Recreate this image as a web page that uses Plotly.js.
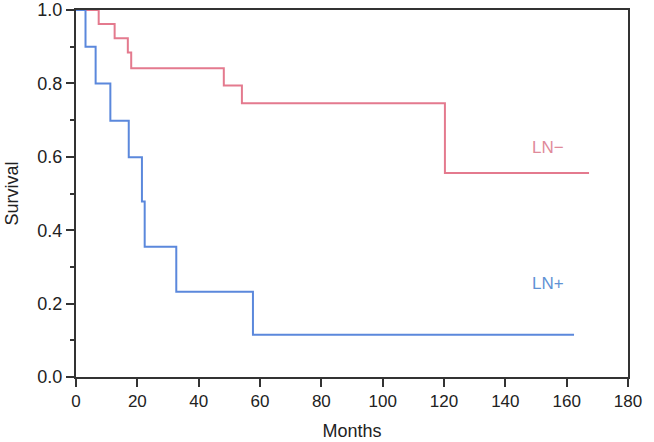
<!DOCTYPE html>
<html>
<head>
<meta charset="utf-8">
<script src="https://cdn.plot.ly/plotly-3.0.1.min.js"></script>
<style>html,body{margin:0;padding:0;background:#fff;}#chart{width:654px;height:442px;}</style>
</head>
<body>
<div id="chart"></div>
<script>
// LN− group (Kaplan–Meier steps)
const lnNegMonths   = [0, 7.4, 12.6, 16.9, 18.0, 48.2, 54.1, 120.3, 167.3];
const lnNegSurvival = [1.0, 0.962, 0.923, 0.884, 0.841, 0.794, 0.746, 0.556, 0.556];
// LN+ group
const lnPosMonths   = [0, 3.1, 6.4, 11.2, 17.2, 21.5, 22.4, 32.7, 57.7, 162.4];
const lnPosSurvival = [1.0, 0.90, 0.80, 0.698, 0.599, 0.478, 0.355, 0.232, 0.115, 0.115];

const xTicks = [0, 20, 40, 60, 80, 100, 120, 140, 160, 180];
const yTicks = [0.0, 0.2, 0.4, 0.6, 0.8, 1.0];

const traces = [
  {x: lnNegMonths, y: lnNegSurvival, mode: 'lines', line: {shape: 'hv', color: '#e47a8e', width: 2}, name: 'LN−'},
  {x: lnPosMonths, y: lnPosSurvival, mode: 'lines', line: {shape: 'hv', color: '#5b88dc', width: 2}, name: 'LN+'}
];

const fam = 'Liberation Sans, Arial, sans-serif';
const txt = '#222';

const layout = {
  width: 654, height: 442,
  margin: {l: 76, r: 26, t: 10, b: 65},
  paper_bgcolor: '#fff', plot_bgcolor: '#fff',
  showlegend: false,
  font: {family: fam, size: 17, color: txt},
  xaxis: {
    range: [0, 180], tickvals: xTicks, ticktext: xTicks.map(String),
    showgrid: false, zeroline: false,
    showline: true, linecolor: '#333', linewidth: 2, mirror: true,
    ticks: 'outside', ticklen: 8, tickwidth: 2, tickcolor: '#333',
    tickfont: {family: fam, size: 17, color: txt},
    title: {text: 'Months', font: {family: fam, size: 18, color: txt}, standoff: 14}
  },
  yaxis: {
    range: [0, 1.0], tickvals: yTicks, ticktext: yTicks.map(v => v.toFixed(1)),
    showgrid: false, zeroline: false,
    showline: true, linecolor: '#333', linewidth: 2, mirror: true,
    ticks: 'outside', ticklen: 8, tickwidth: 2, tickcolor: '#333',
    tickfont: {family: fam, size: 18, color: txt},
    minor: {dtick: 0.1, ticks: 'outside', ticklen: 4, tickwidth: 2, tickcolor: '#333', showgrid: false},
    title: {text: 'Survival', font: {family: fam, size: 18, color: txt}, standoff: 14}
  },
  annotations: [
    {x: 154, y: 0.624, xref: 'x', yref: 'y', text: 'LN−', showarrow: false, font: {family: fam, size: 17, color: '#df8a9a'}},
    {x: 154, y: 0.256, xref: 'x', yref: 'y', text: 'LN+', showarrow: false, font: {family: fam, size: 17, color: '#5f92d4'}}
  ]
};

Plotly.newPlot('chart', traces, layout, {displayModeBar: false, staticPlot: true});
</script>
</body>
</html>
